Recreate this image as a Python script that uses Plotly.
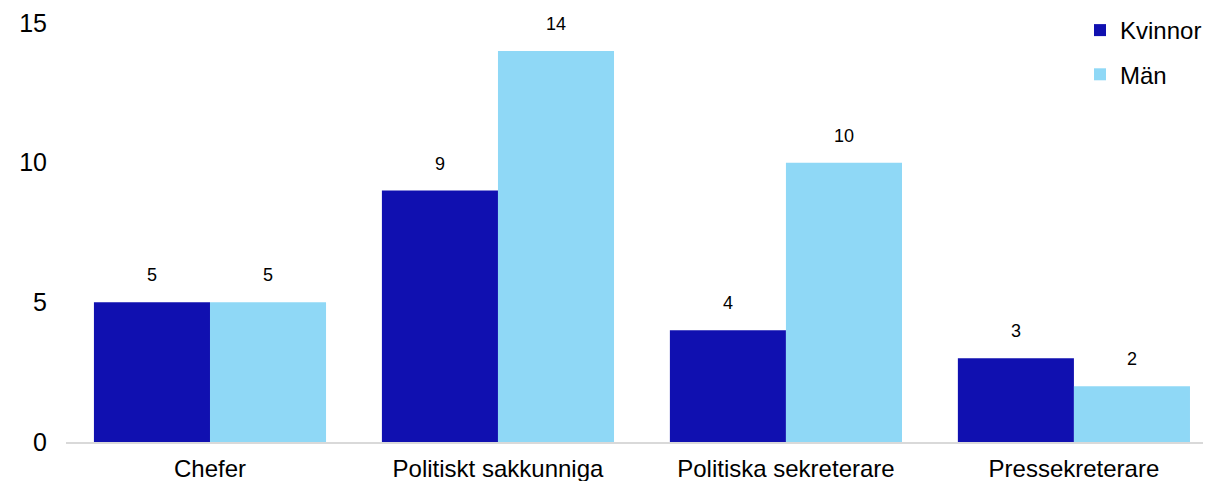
import plotly.graph_objects as go

categories = ["Chefer", "Politiskt sakkunniga", "Politiska sekreterare", "Pressekreterare"]
kvinnor = [5, 9, 4, 3]
man = [5, 14, 10, 2]

dark = "#1010B0"
light = "#8FD8F6"
font = "Liberation Sans, Arial, sans-serif"

# page body has an 8px margin, so the figure is a bit smaller than the window
W, H = 1203, 473

fig = go.Figure()
fig.add_trace(go.Bar(x=categories, y=kvinnor, name="Kvinnor", marker=dict(color=dark, line=dict(width=0)),
                     legendgroup="k"))
fig.add_trace(go.Bar(x=categories, y=man, name="Män", marker=dict(color=light, line=dict(width=0)),
                     legendgroup="m"))

# value labels above each bar
for vals, shift in ((kvinnor, -58), (man, 58)):
    for cat, v in zip(categories, vals):
        fig.add_annotation(x=cat, y=v, text=str(v), showarrow=False, xshift=shift, yshift=27,
                           yanchor="middle", font=dict(size=18, color="#000000", family=font))

fig.update_layout(
    width=W, height=H,
    margin=dict(l=58, r=0, t=15, b=39, autoexpand=False),
    paper_bgcolor="white", plot_bgcolor="white",
    barmode="group", bargap=0.194, bargroupgap=0,
    font=dict(family=font, color="#000000"),
    legend=dict(xref="container", yref="container", x=1072 / W, y=1 + 6 / H,
                xanchor="left", yanchor="top", font=dict(size=24),
                tracegroupgap=10, itemwidth=30, bgcolor="rgba(0,0,0,0)"),
)
fig.update_xaxes(range=[-0.5, 3.476], showline=True, linecolor="#d9d9d9", linewidth=2,
                 showgrid=False, ticks="", tickfont=dict(size=24), ticklabelstandoff=4,
                 automargin=False)
fig.update_yaxes(range=[0, 15], tickvals=[0, 5, 10, 15], showgrid=False, zeroline=False,
                 showline=False, tickfont=dict(size=25), ticklabelstandoff=18, automargin=False)

fig.write_html("out.html")
